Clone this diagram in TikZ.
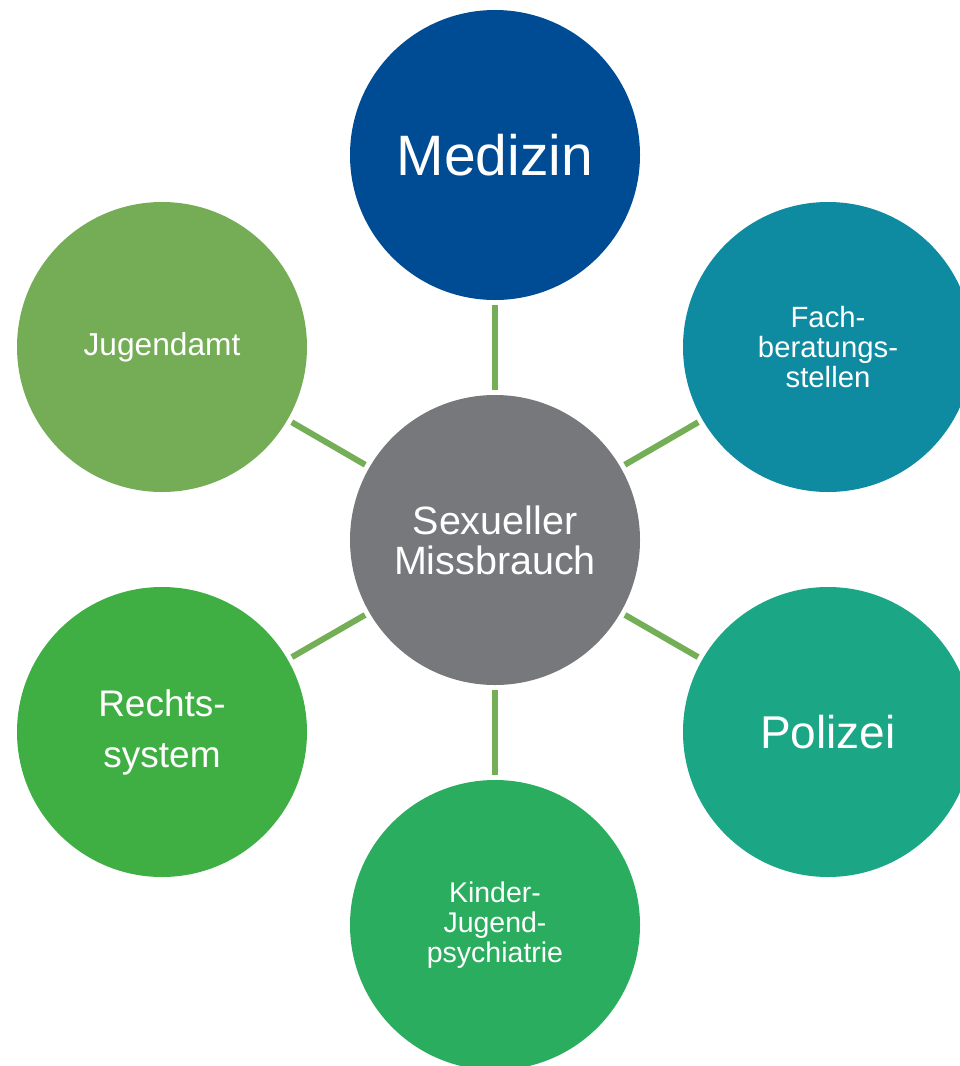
\documentclass[tikz,border=0pt]{standalone}
\usepackage{fontspec}
\setmainfont{Liberation Sans}

\definecolor{medblue}{HTML}{004C94}
\definecolor{fachteal}{HTML}{0E8BA1}
\definecolor{polteal}{HTML}{1BA786}
\definecolor{kjpgreen}{HTML}{2BAD5F}
\definecolor{rechtgreen}{HTML}{3FAF44}
\definecolor{jugendgreen}{HTML}{75AD57}
\definecolor{hubgrey}{HTML}{77787B}
\definecolor{linkgreen}{HTML}{74AE57}

\begin{document}
\begin{tikzpicture}[x=1pt,y=-1pt,
   bubble/.style={circle,minimum size=290pt,inner sep=0pt,outer sep=0pt,
      text=white,align=center},
   link/.style={draw=linkgreen,line width=6pt,shorten >=5pt,shorten <=5pt}]
\useasboundingbox (0,0) rectangle (960,1066);

% hub and the six partners around it
\node[bubble,fill=hubgrey,font=\fontsize{39.5}{40}\selectfont] (sm) at (495,540)
   {Sexueller\\Missbrauch};
\node[bubble,fill=medblue,font=\fontsize{57}{68}\selectfont] (med) at (495,155) {Medizin};
\node[bubble,fill=fachteal,font=\fontsize{29.3}{30}\selectfont] (fach) at (828,347)
   {Fach-\\beratungs-\\stellen};
\node[bubble,fill=polteal,font=\fontsize{46}{55}\selectfont] (pol) at (828,732) {Polizei};
\node[bubble,fill=kjpgreen,font=\fontsize{28.5}{30}\selectfont] (kjp) at (495,925)
   {Kinder-\\Jugend-\\psychiatrie};
\node[bubble,fill=rechtgreen,font=\fontsize{37}{51}\selectfont] (recht) at (162,732)
   {Rechts-\\system};
\node[bubble,fill=jugendgreen,font=\fontsize{31.7}{38}\selectfont] (jug) at (162,347) {Jugendamt};

% spokes
\draw[link] (sm) -- (med);
\draw[link] (sm) -- (fach);
\draw[link] (sm) -- (pol);
\draw[link] (sm) -- (kjp);
\draw[link] (sm) -- (recht);
\draw[link] (sm) -- (jug);
\end{tikzpicture}
\end{document}
